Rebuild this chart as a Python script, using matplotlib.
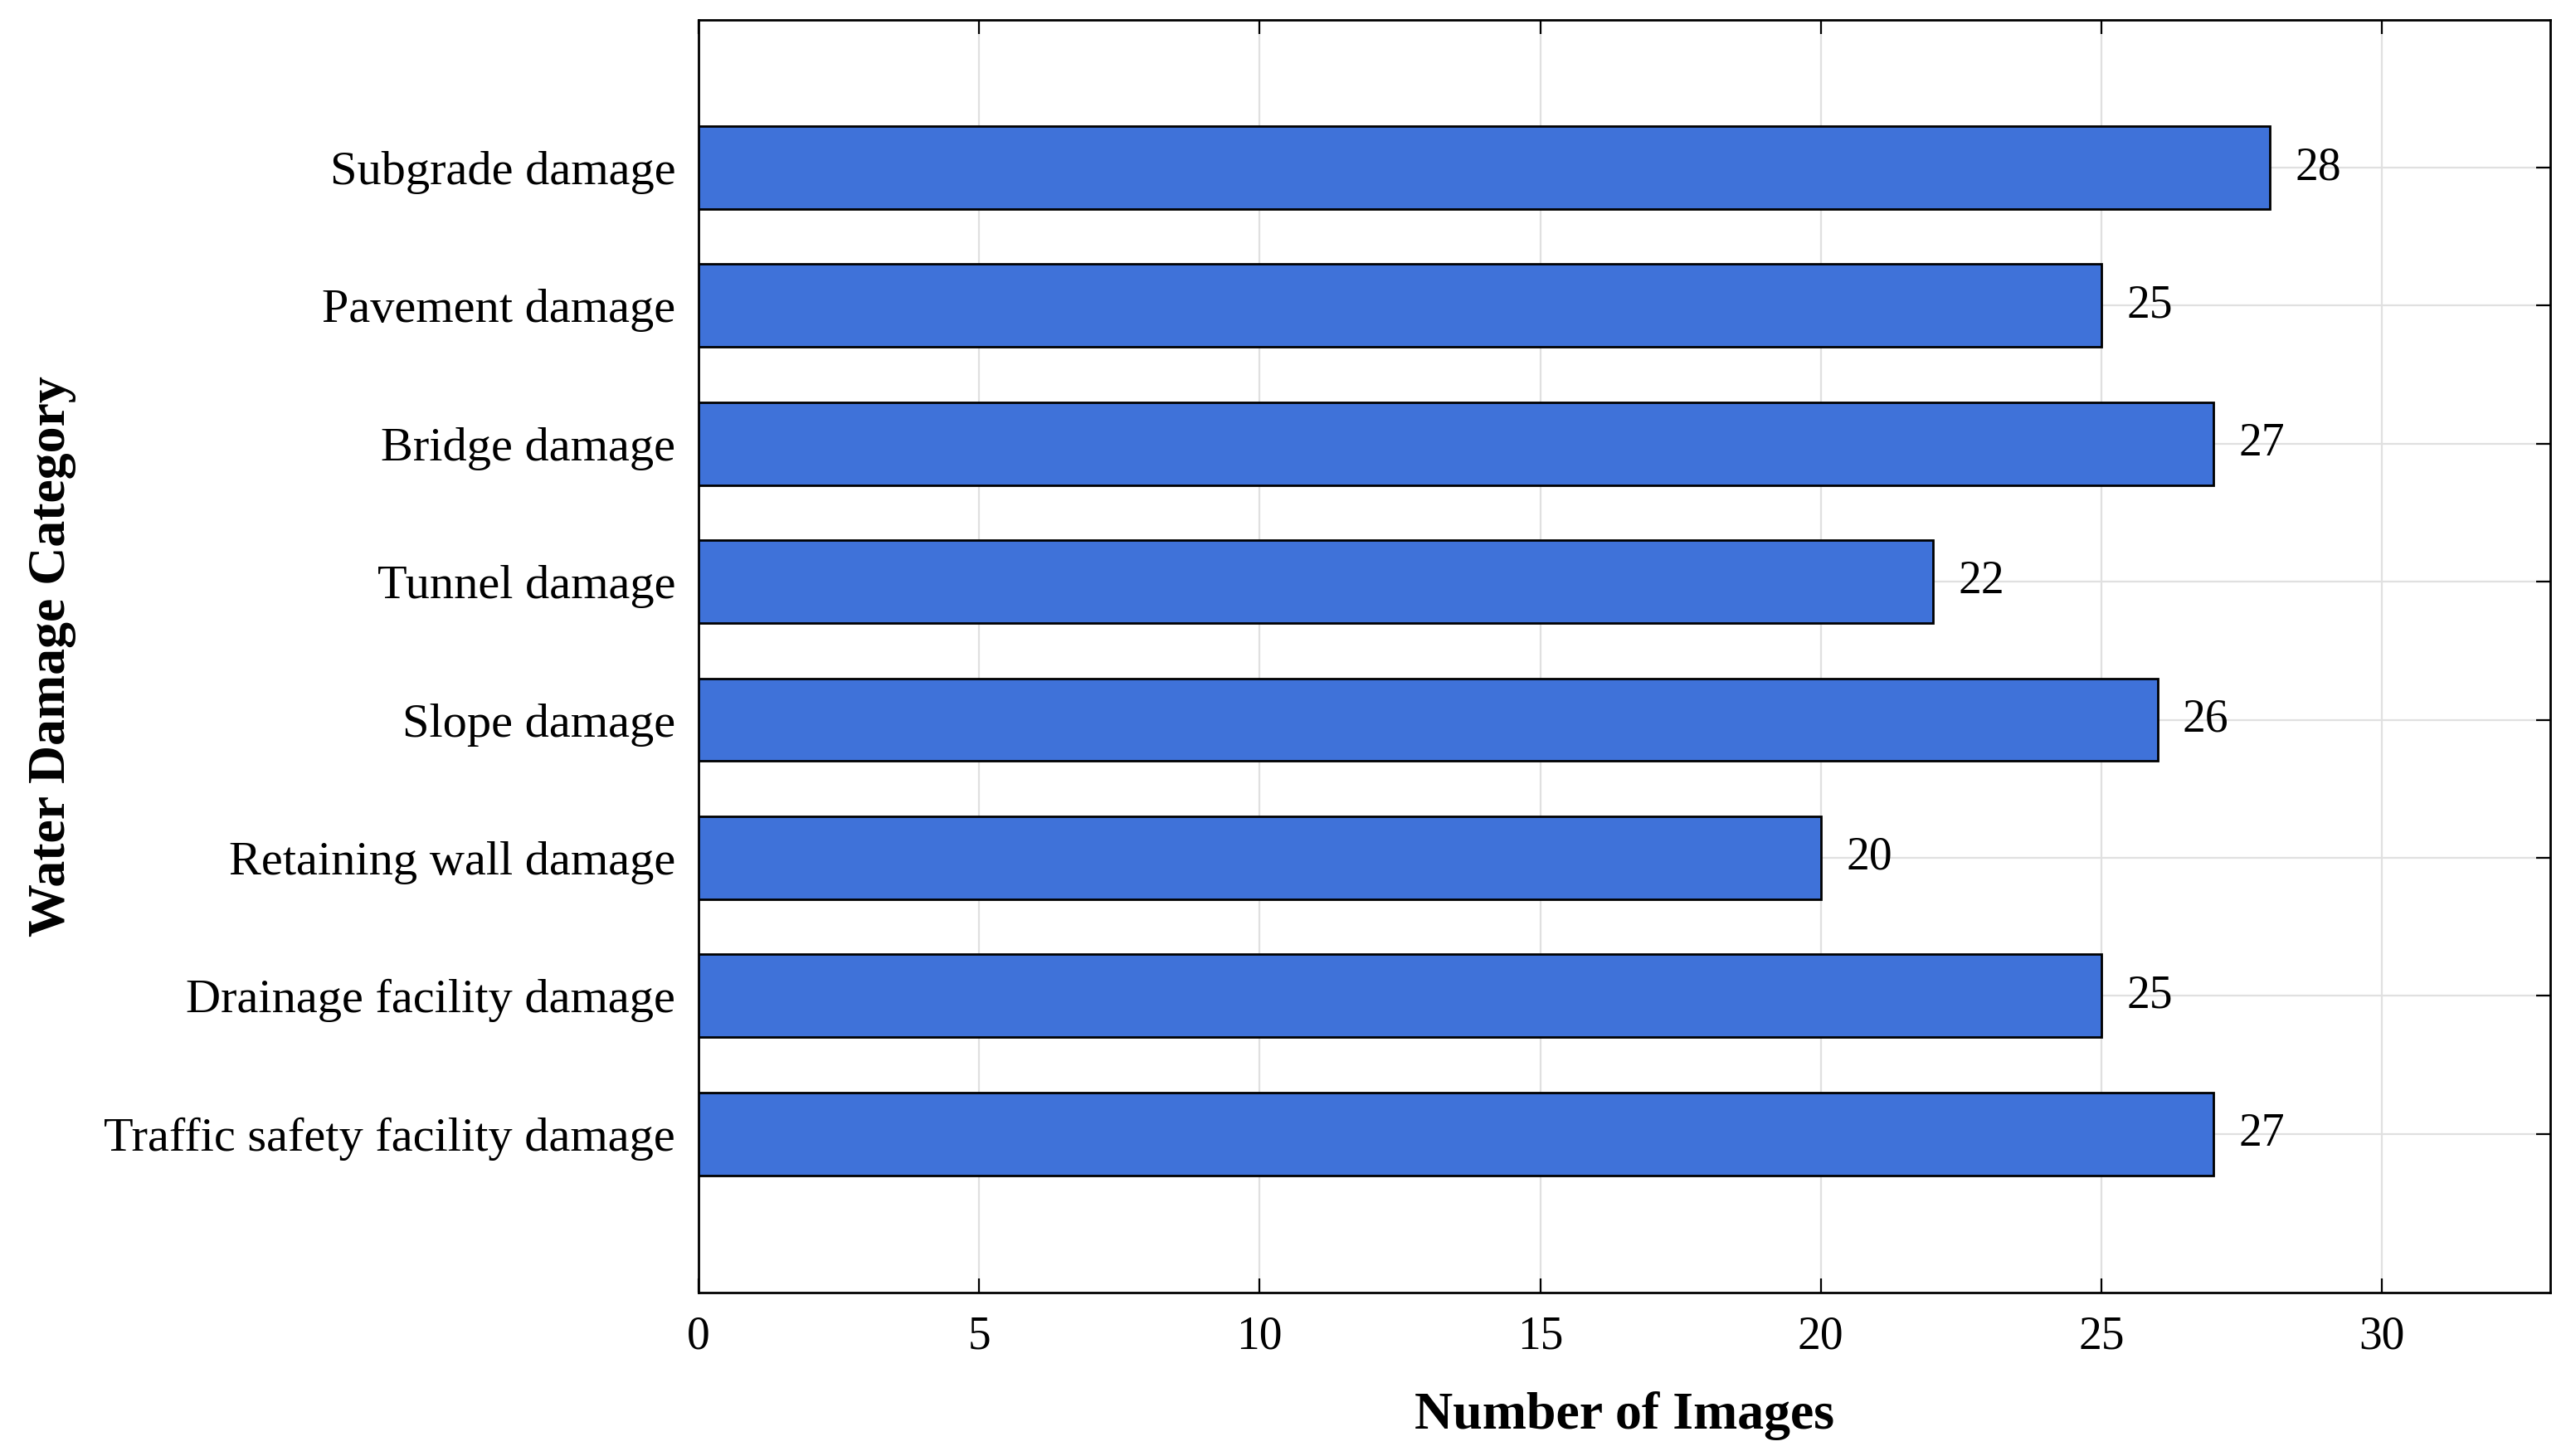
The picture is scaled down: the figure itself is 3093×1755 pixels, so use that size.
import matplotlib
matplotlib.use("Agg")
import matplotlib.pyplot as plt

categories = ["Subgrade damage", "Pavement damage", "Bridge damage", "Tunnel damage",
              "Slope damage", "Retaining wall damage", "Drainage facility damage",
              "Traffic safety facility damage"]
values = [28, 25, 27, 22, 26, 20, 25, 27]
xticks = [0, 5, 10, 15, 20, 25, 30]

plt.rcParams['font.family'] = ['Liberation Serif', 'DejaVu Serif']
fig = plt.figure(figsize=(15.465, 8.775), dpi=200)
ax = fig.add_axes([842/3093, 1-1558/1755, (3074-842)/3093, (1558-24)/1755])
pos = list(range(1, len(categories)+1))
ax.barh(pos, values, height=0.6, color='#3F72D9', edgecolor='black', linewidth=1.0, zorder=3)
for p, v in zip(pos, values):
    ax.text(v + 0.45, p, str(v), va='center', ha='left', fontsize=20)
ax.set_yticks(pos)
ax.set_yticklabels(categories, fontsize=21)
ax.set_ylim(9.15, -0.07)
ax.set_xlim(0, 33)
ax.set_xticks(xticks)
ax.tick_params(axis='x', labelsize=20, pad=10)
ax.tick_params(axis='y', pad=10)
ax.tick_params(direction='in', top=True, right=True, length=6, width=0.8)
ax.grid(True, color='#e0e0e0', linewidth=0.8, zorder=0)
for s in ax.spines.values():
    s.set_linewidth(1.0)
ax.set_xlabel("Number of Images", fontsize=23, fontweight='bold', labelpad=14)
ax.set_ylabel("Water Damage Category", fontsize=23, fontweight='bold', labelpad=12)
fig.savefig("out.png", dpi=200)
